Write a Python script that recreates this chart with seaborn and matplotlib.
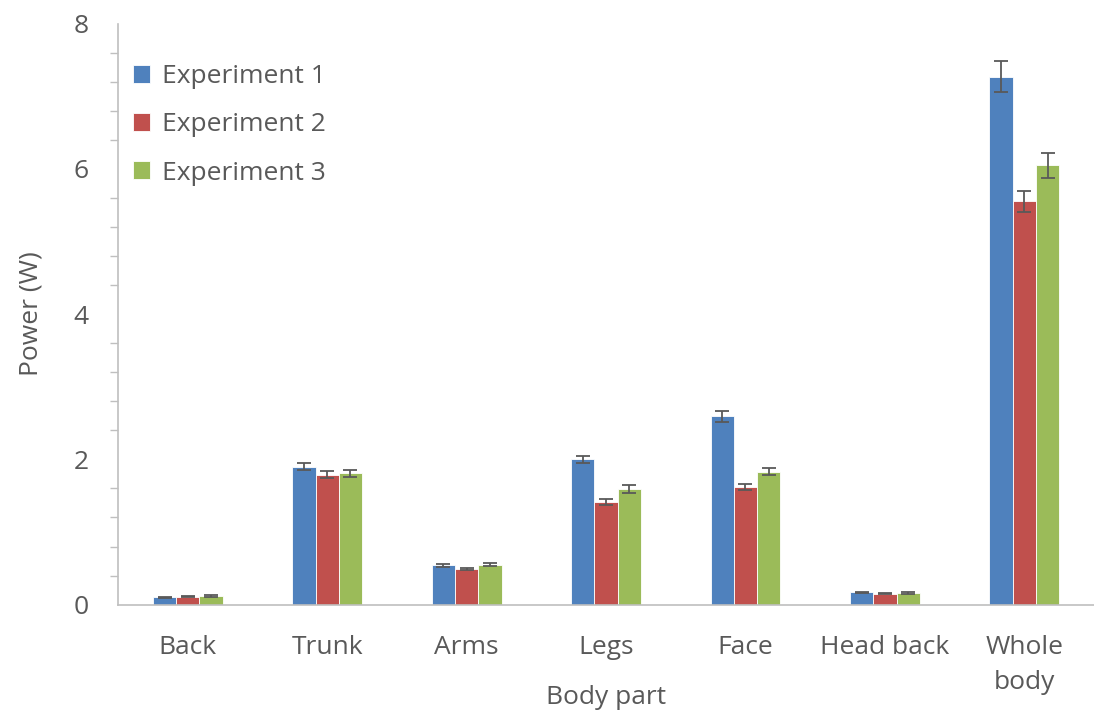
import pandas as pd
import matplotlib.pyplot as plt
import seaborn as sns
from matplotlib.ticker import MultipleLocator

# Data
body_parts = ["Back", "Trunk", "Arms", "Legs", "Face", "Head back", "Whole body"]
tick_labels = ["Back", "Trunk", "Arms", "Legs", "Face", "Head back", "Whole\nbody"]
experiments = ["Experiment 1", "Experiment 2", "Experiment 3"]

exp1 = [0.10, 1.90, 0.54, 2.00, 2.59, 0.17, 7.27]
exp2 = [0.11, 1.79, 0.49, 1.41, 1.62, 0.15, 5.55]
exp3 = [0.12, 1.81, 0.55, 1.59, 1.83, 0.16, 6.05]

err1 = [0.01, 0.05, 0.02, 0.05, 0.07, 0.01, 0.21]
err2 = [0.01, 0.05, 0.02, 0.04, 0.04, 0.01, 0.15]
err3 = [0.01, 0.05, 0.02, 0.05, 0.05, 0.01, 0.17]

colors = ["#4F81BD", "#C0504D", "#9BBB59"]
text_color = "#595959"
axis_color = "#BFBFBF"

rows = []
for exp, vals, errs in zip(experiments, [exp1, exp2, exp3], [err1, err2, err3]):
    for part, v, e in zip(body_parts, vals, errs):
        rows.append({"Body part": part, "Experiment": exp, "Power": v, "Err": e})
df = pd.DataFrame(rows)

sns.set_style("white")
plt.rcParams["font.family"] = ["Open Sans", "DejaVu Sans"]

fig = plt.figure(figsize=(10.94, 7.13), dpi=100)
ax = fig.add_axes([0.108, 0.152, 0.892, 0.815])

sns.barplot(data=df, x="Body part", y="Power", hue="Experiment",
            order=body_parts, hue_order=experiments, palette=colors,
            width=0.5, errorbar=None, saturation=1, ax=ax,
            edgecolor="white", linewidth=0.6)

# error bars centred on each bar
for container, exp in zip(ax.containers, experiments):
    sub = df[df["Experiment"] == exp].set_index("Body part").loc[body_parts]
    xs = [p.get_x() + p.get_width() / 2 for p in container.patches]
    ax.errorbar(xs, sub["Power"], yerr=sub["Err"], fmt="none",
                ecolor="#595959", elinewidth=1.3, capsize=5, capthick=1.3)

ax.set_ylim(0, 8)
ax.set_xlim(-0.5, 6.5)
ax.yaxis.set_major_locator(MultipleLocator(2))
ax.yaxis.set_minor_locator(MultipleLocator(0.4))
ax.tick_params(axis="y", which="major", length=9, width=1, color=axis_color,
               labelsize=19, labelcolor=text_color, pad=12)
ax.tick_params(axis="y", which="minor", left=True, length=6, width=1, color=axis_color)
ax.tick_params(axis="x", length=0, labelsize=19, labelcolor=text_color, pad=22)
ax.set_xticks(range(len(body_parts)))
ax.set_xticklabels(tick_labels, linespacing=1.5)

for side in ["top", "right"]:
    ax.spines[side].set_visible(False)
for side in ["left", "bottom"]:
    ax.spines[side].set_color(axis_color)
    ax.spines[side].set_linewidth(1.2)

ax.set_xlabel("Body part", fontsize=19, color=text_color, va="center")
ax.xaxis.set_label_coords(0.5, -0.16)
ax.set_ylabel("Power (W)", fontsize=19, color=text_color, labelpad=22)

ax.legend(loc="upper left", bbox_to_anchor=(-0.009, 0.971), frameon=False,
          fontsize=19, labelcolor=text_color, handlelength=0.65,
          handleheight=0.65, handletextpad=0.45, labelspacing=0.88)

fig.savefig("out.png", dpi=100)
